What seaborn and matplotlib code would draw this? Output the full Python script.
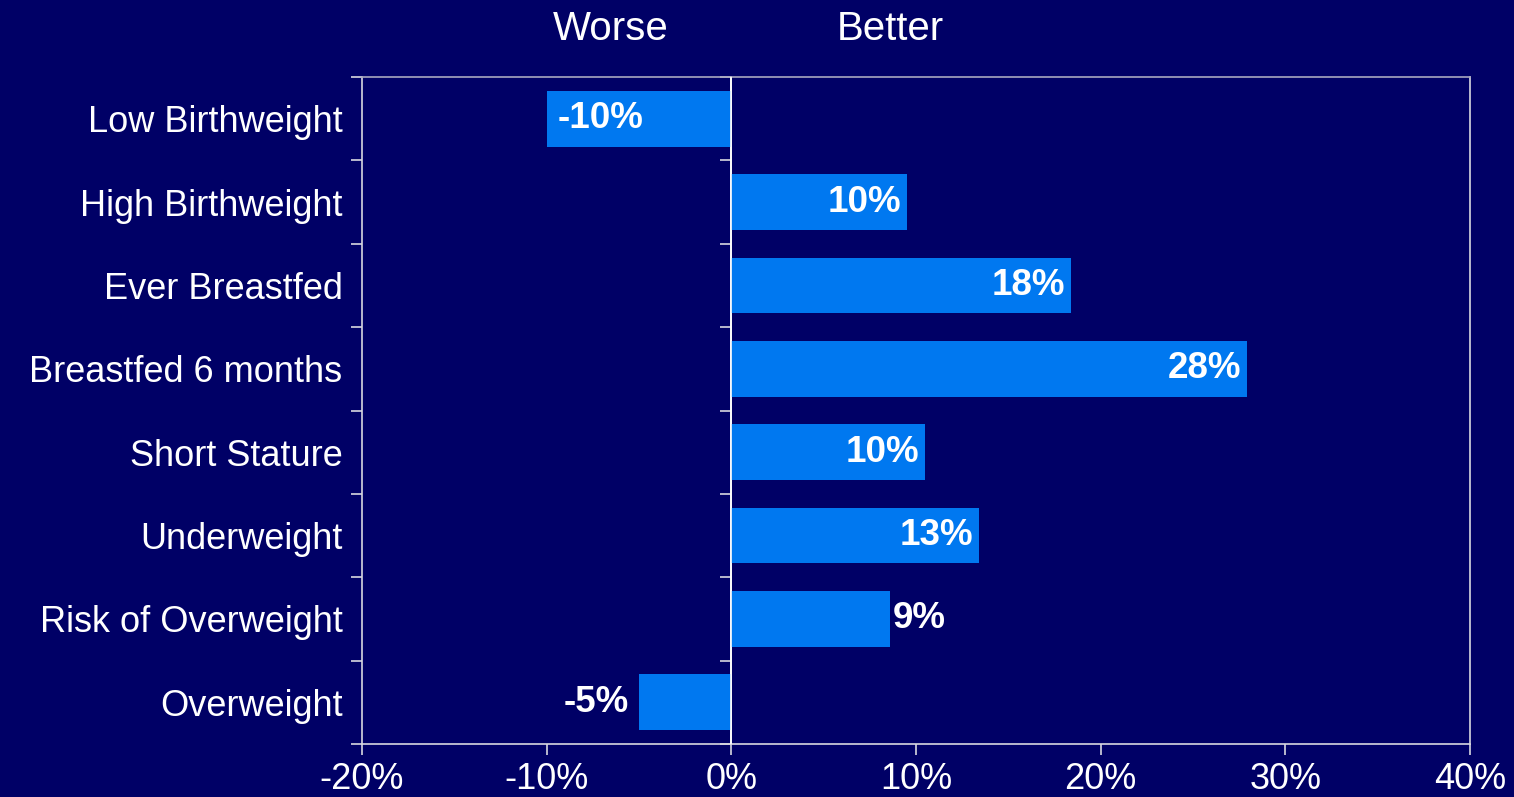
import matplotlib
matplotlib.use("Agg")
import matplotlib.pyplot as plt
import seaborn as sns
import pandas as pd
import numpy as np

# ---- data ----
categories = ["Low Birthweight", "High Birthweight", "Ever Breastfed",
              "Breastfed 6 months", "Short Stature", "Underweight",
              "Risk of Overweight", "Overweight"]
values = [-10.0, 9.5, 18.4, 27.9, 10.5, 13.4, 8.6, -5.0]
value_labels = ["-10%", "10%", "18%", "28%", "10%", "13%", "9%", "-5%"]
x_ticks = [-20, -10, 0, 10, 20, 30, 40]
x_tick_labels = ["-20%", "-10%", "0%", "10%", "20%", "30%", "40%"]
header_left = "Worse"
header_right = "Better"

BG = "#000066"
BAR = "#0078F0"
SPINE = "#D8D8E0"

sns.set_theme(style="white")
plt.rcParams["font.family"] = ["Liberation Sans", "DejaVu Sans"]

df = pd.DataFrame({"category": categories, "value": values})

fig = plt.figure(figsize=(15.14, 7.97), dpi=100, facecolor=BG)
ax = fig.add_axes([362/1514, 1-744/797, (1470-362)/1514, (744-77)/797])
ax.set_facecolor(BG)

sns.barplot(data=df, x="value", y="category", orient="h", color=BAR,
            saturation=1, width=0.67, ax=ax, order=categories,
            edgecolor=BAR, linewidth=0)

ax.set_xlim(-20, 40)
ax.set_ylim(len(categories) - 0.5, -0.5)
ax.set_xlabel("")
ax.set_ylabel("")

# x ticks
ax.set_xticks(x_ticks)
ax.set_xticklabels(x_tick_labels, fontsize=26, color="white")
ax.tick_params(axis="x", bottom=True, direction="out", length=8, width=1.2,
               color=SPINE, pad=5)

# y ticks: labels at centers, tick marks at boundaries
ax.set_yticks(range(len(categories)))
ax.set_yticklabels(categories, fontsize=26, color="white")
ax.tick_params(axis="y", which="major", left=True, length=0, pad=14)
ax.set_yticks(np.arange(-0.5, len(categories), 1.0), minor=True)
ax.tick_params(axis="y", which="minor", left=True, direction="out", length=8,
               width=1.2, color=SPINE)

for s in ax.spines.values():
    s.set_visible(True)
    s.set_color(SPINE)
    s.set_linewidth(1.2)
ax.spines["top"].set_color("#A8A8C0")

# zero axis with ticks to the left
sec = ax.secondary_yaxis(1/3)
for s in sec.spines.values():
    s.set_color("white")
    s.set_linewidth(1.2)
sec.set_yticks(np.arange(-0.5, len(categories), 1.0))
sec.set_yticklabels([])
sec.yaxis.set_ticks_position("left")
sec.tick_params(axis="y", left=True, direction="out", length=8, width=1.2, color=SPINE)
ax.axvline(0, color="white", lw=1.2, zorder=3)

# value labels
for patch, v, lab in zip(ax.patches, values, value_labels):
    y = patch.get_y() + patch.get_height() / 2
    x0 = patch.get_x()
    x1 = patch.get_x() + patch.get_width()
    if v >= 0:
        xe = max(x0, x1)
        if abs(v) >= 9:
            off, ha = -4, "right"
        else:
            off, ha = 2, "left"
    else:
        xe = min(x0, x1)
        if abs(v) >= 9:
            off, ha = 8, "left"
        else:
            off, ha = -7, "right"
    ax.annotate(lab, (xe, y), xytext=(off, 0), textcoords="offset points",
                ha=ha, va="center", fontsize=26.5, fontweight="bold", color="white",
                zorder=5)

# headers
fig.text(611/1514, 1-29/797, header_left, ha="center", va="center",
         fontsize=29, color="white")
fig.text(890/1514, 1-29/797, header_right, ha="center", va="center",
         fontsize=29, color="white")

fig.savefig("out.png", dpi=100, facecolor=BG)
